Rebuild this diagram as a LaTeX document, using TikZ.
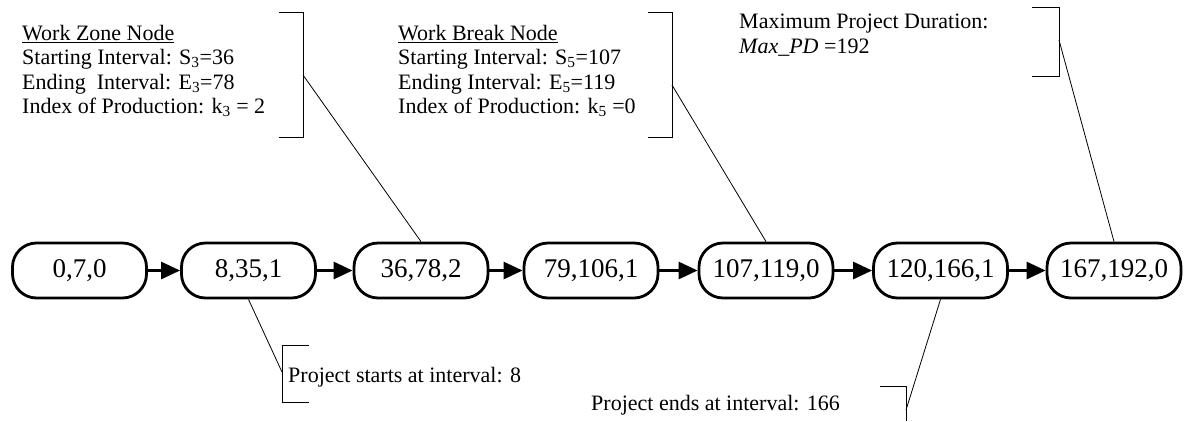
\documentclass[tikz,border=0pt]{standalone}
\usepackage{fontspec}
\setmainfont{Liberation Serif}
\usetikzlibrary{arrows.meta}
\begin{document}
\begin{tikzpicture}[x=1pt,y=-1pt,
  box/.style={draw, line width=2.8pt, rounded corners=24pt, minimum width=134pt, minimum height=55pt, inner sep=0pt, font=\fontsize{27}{31}\selectfont},
  lbl/.style={anchor=base west, inner sep=0pt, font=\fontsize{22}{26}\selectfont},
  flow/.style={line width=2.8pt, -{Triangle[length=19pt,width=17pt]}},
  thinline/.style={line width=0.8pt}]
\useasboundingbox (0,0) rectangle (1193,421);

% chain nodes
\node[box] (n1) at (79.5,270.5) {0,7,0};
\node[box] (n2) at (248.5,270.5) {8,35,1};
\node[box] (n3) at (421,270.5) {36,78,2};
\node[box] (n4) at (591,270.5) {79,106,1};
\node[box] (n5) at (766,270.5) {107,119,0};
\node[box] (n6) at (940.5,270.5) {120,166,1};
\node[box] (n7) at (1114,270.5) {167,192,0};

\draw[flow] (n1) -- (n2);
\draw[flow] (n2) -- (n3);
\draw[flow] (n3) -- (n4);
\draw[flow] (n4) -- (n5);
\draw[flow] (n5) -- (n6);
\draw[flow] (n6) -- (n7);

% work zone callout
\node[lbl] (wz1) at (22,40) {\underline{Work Zone Node}};
\node[lbl] (wz2) at (22,64.5) {Starting Interval: S\textsubscript{3}=36};
\node[lbl] (wz3) at (22,89) {Ending~ Interval: E\textsubscript{3}=78};
\node[lbl] (wz4) at (22,113.5) {Index of Production: k\textsubscript{3} = 2};
\draw[thinline] (279,12) -- (303,12) -- (303,137) -- (279,137);
\coordinate (c1) at (303,75);
\draw[thinline] (c1) -- (n3.north);

% work break callout
\node[lbl] (wb1) at (398,40) {\underline{Work Break Node}};
\node[lbl] (wb2) at (398,64.5) {Starting Interval: S\textsubscript{5}=107};
\node[lbl] (wb3) at (398,89) {Ending Interval: E\textsubscript{5}=119};
\node[lbl] (wb4) at (398,113.5) {Index of Production: k\textsubscript{5} =0};
\draw[thinline] (648,12) -- (672,12) -- (672,137) -- (648,137);
\coordinate (c2) at (672,85);
\draw[thinline] (c2) -- (n5.north);

% max duration callout
\node[lbl] (mp1) at (739,28) {Maximum Project Duration:};
\node[lbl] (mp2) at (739,53) {{\itshape Max\_PD} =192};
\draw[thinline] (1032,7) -- (1059,7) -- (1059,76) -- (1032,76);
\coordinate (c3) at (1059,40);
\draw[thinline] (c3) -- (n7.north);

% project starts callout
\node[lbl] (ps) at (288,382) {Project starts at interval: 8};
\draw[thinline] (309,345) -- (282,345) -- (282,402) -- (309,402);
\coordinate (c4) at (282,372);
\draw[thinline] (n2.south) -- (c4);

% project ends callout
\node[lbl] (pe) at (591,410) {Project ends at interval: 166};
\draw[thinline] (880,386) -- (906,386) -- (906,421);
\coordinate (c5) at (906,410);
\draw[thinline] (n6.south) -- (c5);
\end{tikzpicture}
\end{document}
